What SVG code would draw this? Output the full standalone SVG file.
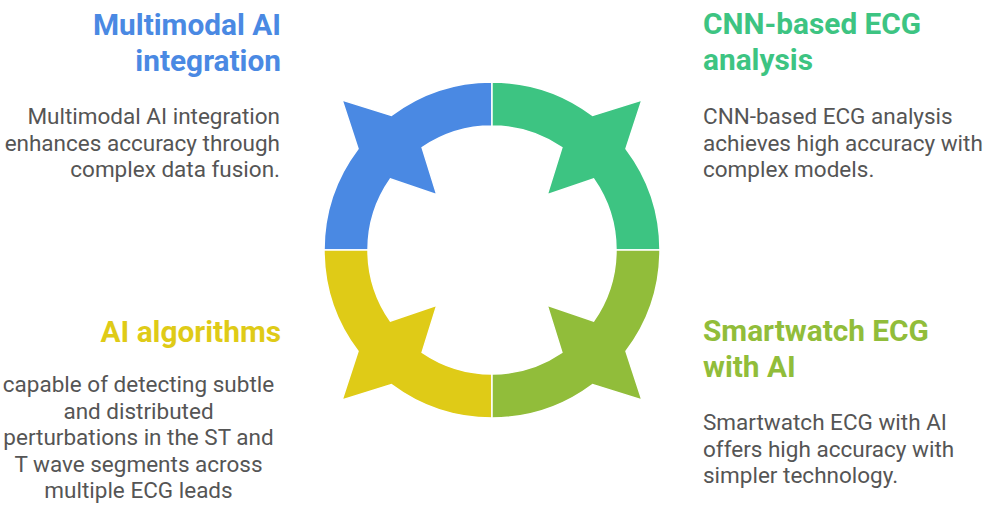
<svg xmlns="http://www.w3.org/2000/svg" width="986" height="510" viewBox="0 0 986 510">
<style>
.t{font-family:Roboto,"Liberation Sans",sans-serif;font-weight:700;font-size:29.8px}
.b{font-family:Roboto,"Liberation Sans",sans-serif;font-size:22.5px;fill:#555555}
.seg{stroke:#ffffff;stroke-width:1.5;stroke-linejoin:miter}
</style>
<defs>
<path id="q" d="M 324 250 A 168 168 0 0 1 358.0 148.7 L 342.1 100.1 L 391.4 115.4 A 168 168 0 0 1 492 82 L 492 126 A 124 124 0 0 0 422.1 147.6 L 436.8 194.8 L 390.4 178.9 A 124 124 0 0 0 368 250 Z"/>
</defs>
<rect width="986" height="510" fill="#ffffff"/>
<g id="connectors">
<use id="seg-blue" href="#q" class="seg" fill="#4A89E3"/>
<use id="seg-green" href="#q" class="seg" fill="#3DC482" transform="translate(984,0) scale(-1,1)"/>
<use id="seg-yellow" href="#q" class="seg" fill="#DFCB17" transform="translate(0,500) scale(1,-1)"/>
<use id="seg-olive" href="#q" class="seg" fill="#91BD3A" transform="translate(984,500) scale(-1,-1)"/>
</g>
<g id="node-multimodal">
<text class="t" fill="#4A89E3" text-anchor="end" x="281"><tspan x="281" y="35">Multimodal AI</tspan><tspan x="281" y="71">integration</tspan></text>
<text class="b" text-anchor="end"><tspan x="280" y="124">Multimodal AI integration</tspan><tspan x="280" y="150.5">enhances accuracy through</tspan><tspan x="280" y="177">complex data fusion.</tspan></text>
</g>
<g id="node-cnn">
<text class="t" fill="#3DC482"><tspan x="703" y="34">CNN-based ECG</tspan><tspan x="703" y="70">analysis</tspan></text>
<text class="b"><tspan x="703" y="124">CNN-based ECG analysis</tspan><tspan x="703" y="150.5">achieves high accuracy with</tspan><tspan x="703" y="177">complex models.</tspan></text>
</g>
<g id="node-algorithms">
<text class="t" fill="#DFCB17" text-anchor="end" x="281" y="342">AI algorithms</text>
<text class="b" text-anchor="middle"><tspan x="138.5" y="392">capable of detecting subtle</tspan><tspan x="138.5" y="418.5">and distributed</tspan><tspan x="138.5" y="445">perturbations in the ST and</tspan><tspan x="138.5" y="471.5">T wave segments across</tspan><tspan x="138.5" y="498">multiple ECG leads</tspan></text>
</g>
<g id="node-smartwatch">
<text class="t" fill="#91BD3A"><tspan x="703" y="341">Smartwatch ECG</tspan><tspan x="703" y="377">with AI</tspan></text>
<text class="b"><tspan x="703" y="430">Smartwatch ECG with AI</tspan><tspan x="703" y="456.5">offers high accuracy with</tspan><tspan x="703" y="483">simpler technology.</tspan></text>
</g>
</svg>
